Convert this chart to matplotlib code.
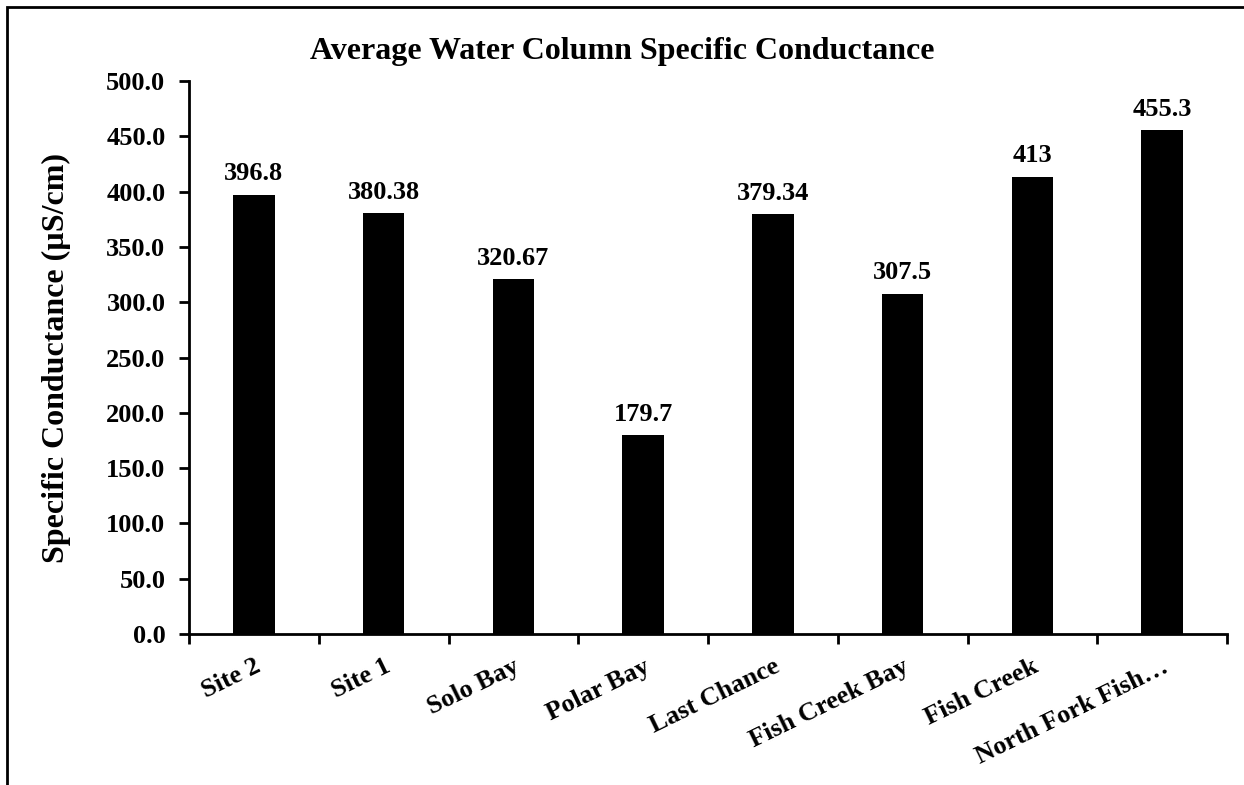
import numpy as np
import matplotlib.pyplot as plt
from matplotlib.patches import Rectangle

# chart data
sites = ["Site 2", "Site 1", "Solo Bay", "Polar Bay", "Last Chance",
         "Fish Creek Bay", "Fish Creek", "North Fork Fish\u2026"]
conductance = [396.8, 380.38, 320.67, 179.7, 379.34, 307.5, 413, 455.3]
value_text = ["396.8", "380.38", "320.67", "179.7", "379.34", "307.5", "413", "455.3"]
yticks = np.arange(0, 501, 50)

plt.rcParams['font.family'] = ['Liberation Serif', 'DejaVu Serif']
plt.rcParams['font.weight'] = 'bold'

fig = plt.figure(figsize=(12.44, 7.85), dpi=100)
ax = fig.add_axes([189 / 1244, 1 - 634 / 785, (1227 - 189) / 1244, (634 - 81) / 785])

x = np.arange(len(sites))
ax.bar(x, conductance, width=0.32, color="black")

for xi, v, t in zip(x, conductance, value_text):
    ax.annotate(t, (xi, v), xytext=(0, 7), textcoords="offset points",
                ha="center", va="bottom", fontsize=19, fontweight="bold")

ax.set_xlim(-0.5, len(sites) - 0.5)
ax.set_ylim(0, 500)
ax.set_yticks(yticks)
ax.set_yticklabels(["%.1f" % t for t in yticks], fontsize=19, fontweight="bold")

# ticks sit between categories, labels at the centre
ax.set_xticks(np.arange(-0.5, len(sites), 1.0))
ax.set_xticklabels([])
ax.set_xticks(x, minor=True)
ax.set_xticklabels(sites, minor=True, rotation=26, ha="right", va="top",
                   rotation_mode="anchor", fontsize=19, fontweight="bold")
ax.tick_params(axis="x", which="minor", length=0, pad=15)
ax.tick_params(axis="x", which="major", direction="out", length=7, width=2)
ax.tick_params(axis="y", direction="out", length=7, width=2, pad=10)

for s in ["top", "right"]:
    ax.spines[s].set_visible(False)
ax.spines["left"].set_linewidth(2)
ax.spines["bottom"].set_linewidth(2)

ax.set_ylabel("Specific Conductance (\u00b5S/cm)", fontsize=23, fontweight="bold", labelpad=25)
fig.text(0.5, 1 - 52 / 785, "Average Water Column Specific Conductance",
         ha="center", va="center", fontsize=23, fontweight="bold")

# chart area border, open at the right and bottom like the crop
fig.patches.append(Rectangle((7 / 1244, -0.1), 1.2, 1 - 7 / 785 + 0.1, transform=fig.transFigure,
                             fill=False, edgecolor="black", linewidth=2))

fig.savefig("out.png", dpi=100)
